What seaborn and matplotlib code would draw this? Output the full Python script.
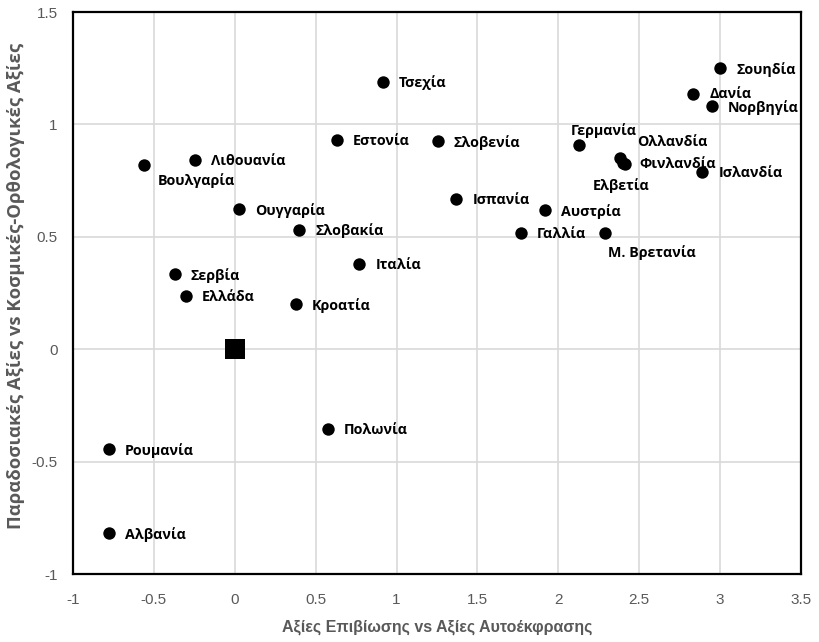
import matplotlib
matplotlib.use("Agg")
import matplotlib.pyplot as plt
import seaborn as sns
import pandas as pd
from matplotlib import font_manager

countries = ["Σουηδία", "Δανία", "Νορβηγία", "Γερμανία", "Ολλανδία", "Ελβετία",
             "Φινλανδία", "Ισλανδία", "Τσεχία", "Εστονία", "Σλοβενία", "Ισπανία",
             "Αυστρία", "Γαλλία", "Μ. Βρετανία", "Λιθουανία", "Βουλγαρία", "Ουγγαρία",
             "Σλοβακία", "Ιταλία", "Σερβία", "Ελλάδα", "Κροατία", "Πολωνία",
             "Ρουμανία", "Αλβανία"]
survival_self = [3.00, 2.83, 2.95, 2.13, 2.38, 2.40, 2.41, 2.89, 0.915, 0.63, 1.255, 1.37,
                 1.916, 1.77, 2.29, -0.247, -0.56, 0.025, 0.40, 0.77, -0.37, -0.30, 0.377, 0.575,
                 -0.78, -0.78]
trad_secular = [1.25, 1.134, 1.08, 0.91, 0.85, 0.83, 0.825, 0.79, 1.19, 0.93, 0.925, 0.667,
                0.618, 0.516, 0.516, 0.84, 0.82, 0.623, 0.53, 0.378, 0.334, 0.236, 0.20, -0.356,
                -0.445, -0.818]
origin_x = [0.0]
origin_y = [0.0]

x_ticks = [-1, -0.5, 0, 0.5, 1, 1.5, 2, 2.5, 3, 3.5]
y_ticks = [-1, -0.5, 0, 0.5, 1, 1.5]
x_title = "Αξίες Επιβίωσης vs Αξίες Αυτοέκφρασης"
y_title = "Παραδοσιακές Αξίες vs Κοσμικές-Ορθολογικές Αξίες"

df = pd.DataFrame({"country": countries, "x": survival_self, "y": trad_secular})

sns.set_style("white")
avail = {f.name for f in font_manager.fontManager.ttflist}
tick_font = "Liberation Sans Narrow" if "Liberation Sans Narrow" in avail else "Liberation Sans"
plt.rcParams["font.family"] = ["Open Sans", "DejaVu Sans"]

fig = plt.figure(figsize=(8.19, 6.42), dpi=100)
ax = fig.add_axes([73/819, 1 - 574/642, (801-73)/819, (574-12)/642])

sns.scatterplot(data=df, x="x", y="y", ax=ax, color="black", s=80, edgecolor="black",
                linewidth=0, zorder=3)
sns.scatterplot(x=origin_x, y=origin_y, ax=ax, color="black", marker="s", s=210,
                edgecolor="black", linewidth=0, zorder=3)

# label offsets in pixels (dx, dy downwards)
offsets = {
    "Γερμανία": (-9, -14),
    "Ολλανδία": (17, -16),
    "Ελβετία": (-30, 23),
    "Φινλανδία": (15, 0),
    "Βουλγαρία": (14, 16),
    "Μ. Βρετανία": (3, 19),
    "Δανία": (17, 0),
}
for c, xv, yv in zip(countries, survival_self, trad_secular):
    dx, dy = offsets.get(c, (16, 1))
    ax.annotate(c, (xv, yv), xytext=(dx * 0.72, -dy * 0.72), textcoords="offset points",
                ha="left", va="center", fontsize=10.3, fontweight="bold", color="black",
                family=["Open Sans", "DejaVu Sans"], zorder=4)

ax.set_xlim(-1, 3.5)
ax.set_ylim(-1, 1.5)
ax.set_xticks(x_ticks)
ax.set_yticks(y_ticks)
ax.set_xticklabels([f"{t:g}" for t in x_ticks], family=tick_font, fontsize=11, color="#595959")
ax.set_yticklabels([f"{t:g}" for t in y_ticks], family=tick_font, fontsize=11, color="#595959")
ax.tick_params(axis="x", length=0, pad=14)
ax.tick_params(axis="y", length=0, pad=11)
ax.grid(True, color="#d9d9d9", linewidth=1.2, zorder=0)
ax.set_axisbelow(True)
for s in ax.spines.values():
    s.set_color("black")
    s.set_linewidth(1.6)

ax.set_xlabel(x_title, fontsize=11.5, fontweight="bold", color="#595959",
              family=[tick_font, "DejaVu Sans"])
ax.set_ylabel(y_title, fontsize=13.3, fontweight="bold", color="#595959",
              family=["Open Sans", "DejaVu Sans"])
ax.xaxis.set_label_coords(0.5, (574 - 627) / 562)
ax.yaxis.set_label_coords((16 - 73) / 728, (574 - 286) / 562)
ax.yaxis.label.set_va("center")
ax.xaxis.label.set_va("center")

fig.savefig("out.png", dpi=100)
